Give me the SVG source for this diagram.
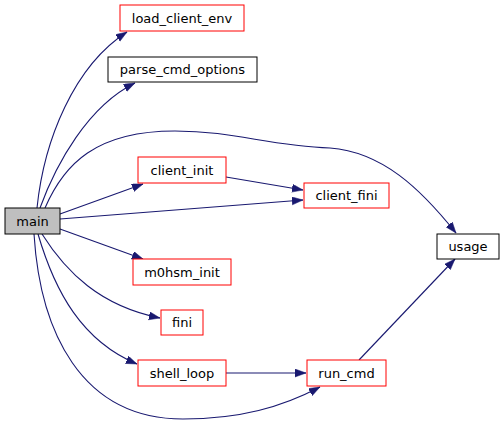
<svg xmlns="http://www.w3.org/2000/svg" width="504" height="426" viewBox="0 0 504 426">
<style>
.n rect{fill:#fff;stroke:#ff0000;stroke-width:1}
.n.b rect{stroke:#000}
.n.m rect{fill:#bfbfbf;stroke:#000}
.n text{font-family:"DejaVu Sans",sans-serif;font-size:13px;fill:#000;text-anchor:middle}
.e path{fill:none;stroke:#191970;stroke-width:1.1;marker-end:url(#a)}
</style>
<defs>
<marker id="a" markerUnits="userSpaceOnUse" markerWidth="13" markerHeight="10" refX="11" refY="4" orient="auto">
<path d="M0,0 L11,4 L0,8 z" fill="#191970" stroke="#191970" stroke-width="0.5"/>
</marker>
</defs>
<rect width="504" height="426" fill="#fff"/>
<g id="edges" class="e">
<path d="M37,208 C44,140 74,66 127,32"/>
<path d="M40,208 C56,164 88,106 135,83"/>
<path d="M45,208 C64,164 96,131 175,131 C235,131 268,146 330,148 C382,152 420,188 456,233"/>
<path d="M60,214 L143,184"/>
<path d="M60,219 L303,200"/>
<path d="M226,177 L303,190"/>
<path d="M60,229 L143,259"/>
<path d="M42,234 C66,272 100,306 160,318"/>
<path d="M38,234 C55,292 82,341 137,364"/>
<path d="M34,234 C40,330 80,419 183,419 C240,419 282,407 320,387"/>
<path d="M226,373 L306,373"/>
<path d="M359,360 L455,259"/>
</g>
<g id="main" class="n m"><rect x="5" y="208" width="55" height="26"/><text x="32.5" y="225.5">main</text></g>
<g id="load_client_env" class="n"><rect x="120" y="5" width="124" height="26"/><text x="182" y="22.5">load_client_env</text></g>
<g id="parse_cmd_options" class="n b"><rect x="108" y="57" width="149" height="25"/><text x="182.5" y="74">parse_cmd_options</text></g>
<g id="client_init" class="n"><rect x="138" y="157" width="88" height="26"/><text x="182" y="174.5">client_init</text></g>
<g id="client_fini" class="n"><rect x="304" y="183" width="85" height="25"/><text x="346.5" y="200">client_fini</text></g>
<g id="usage" class="n b"><rect x="437" y="234" width="62" height="25"/><text x="468" y="251">usage</text></g>
<g id="m0hsm_init" class="n"><rect x="133" y="259" width="98" height="26"/><text x="182" y="276.5">m0hsm_init</text></g>
<g id="fini" class="n"><rect x="161" y="310" width="42" height="25"/><text x="182" y="327">fini</text></g>
<g id="shell_loop" class="n"><rect x="138" y="360" width="88" height="26"/><text x="182" y="377.5">shell_loop</text></g>
<g id="run_cmd" class="n"><rect x="307" y="360" width="79" height="26"/><text x="346.5" y="377.5">run_cmd</text></g>
</svg>
